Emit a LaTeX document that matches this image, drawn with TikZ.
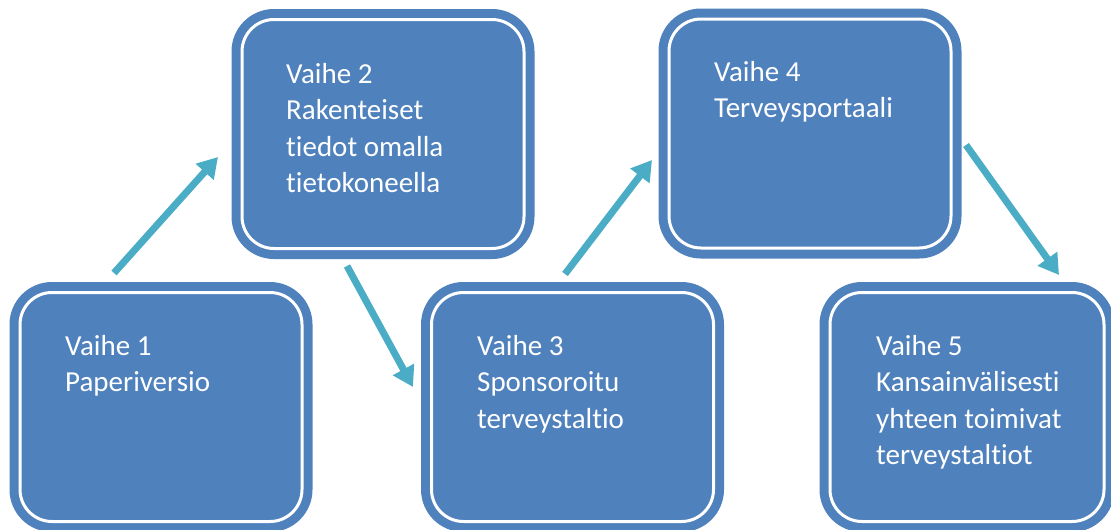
\documentclass[tikz,border=0pt]{standalone}
\usepackage{fontspec}
\setmainfont{Carlito}[Ligatures=NoCommon]
\usetikzlibrary{arrows.meta}

\definecolor{stageblue}{HTML}{4F81BD}
\definecolor{flowcyan}{HTML}{4BACC6}

\tikzset{
  stagebox/.style={
    rectangle, rounded corners=32pt, inner sep=0pt,
    fill=stageblue, draw=white, line width=3pt,
    preaction={draw=stageblue, line width=21pt},
    minimum width=282pt, minimum height=229pt
  },
  % multi-line labels sit on the baseline of their last line
  stagetext/.style={
    anchor=base west, inner sep=0pt, text=white, align=left,
    font=\fontsize{29pt}{36.5pt}\selectfont
  },
  flow/.style={
    draw=flowcyan, line width=7pt,
    -{Triangle[width=23pt,length=20pt]}
  }
}

\begin{document}
\begin{tikzpicture}[x=1pt,y=-1pt]
  \useasboundingbox (0,0) rectangle (1111,530);

  % five stages, zig-zagging up and down
  \node[stagebox] (s1) at (161,407) {};
  \node[stagebox] (s2) at (383,134) {};
  \node[stagebox] (s3) at (572.5,407) {};
  \node[stagebox] (s4) at (810,133.5) {};
  \node[stagebox, minimum width=274pt] (s5) at (967,407) {};

  \node[stagetext] (t1) at (65,391.5)  {Vaihe 1\\Paperiversio};
  \node[stagetext] (t2) at (286,192.5) {Vaihe 2\\Rakenteiset\\tiedot omalla\\tietokoneella};
  \node[stagetext] (t3) at (477,428)   {Vaihe 3\\Sponsoroitu\\terveystaltio};
  \node[stagetext] (t4) at (714,117.5) {Vaihe 4\\Terveysportaali};
  \node[stagetext] (t5) at (876,464.5) {Vaihe 5\\Kansainvälisesti\\yhteen toimivat\\terveystaltiot};

  % arrow ends
  \coordinate (a1s) at (114,273);
  \coordinate (a1e) at (218,157);
  \coordinate (a2s) at (347,266);
  \coordinate (a2e) at (413,387);
  \coordinate (a3s) at (565,274);
  \coordinate (a3e) at (652,160);
  \coordinate (a4s) at (966,145);
  \coordinate (a4e) at (1059,275);

  \draw[flow] (a1s) -- (a1e);
  \draw[flow] (a2s) -- (a2e);
  \draw[flow] (a3s) -- (a3e);
  \draw[flow] (a4s) -- (a4e);
\end{tikzpicture}
\end{document}
